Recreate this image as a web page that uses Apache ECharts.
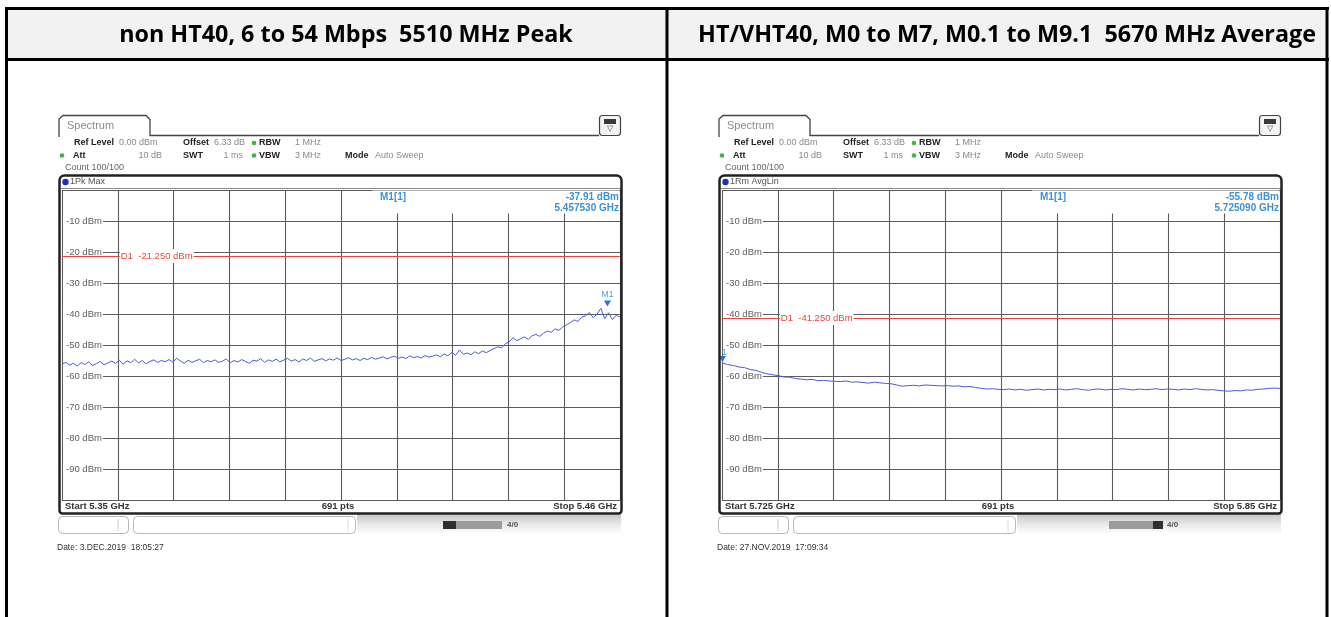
<!DOCTYPE html>
<html><head><meta charset="utf-8">
<script src="https://cdn.jsdelivr.net/npm/echarts@6.0.0/dist/echarts.min.js"></script>
<style>html,body{margin:0;padding:0;background:#fff}#c{width:1331px;height:617px}</style>
</head><body><div id="c"></div>
<script>
// ---------------- data ----------------
const headerTitles = ["non HT40, 6 to 54 Mbps  5510 MHz Peak", "HT/VHT40, M0 to M7, M0.1 to M9.1  5670 MHz Average"];
const yTickValues = [0, -10, -20, -30, -40, -50, -60, -70, -80, -90, -100];
const leftStartMHz = 5350, leftStopMHz = 5460;
const rightStartMHz = 5725, rightStopMHz = 5850;
const leftTrace = [
 -56.2,-55.6,-56.5,-55.9,-56.8,-55.7,-56.3,-55.4,-56.6,-56.0,-55.3,-56.4,-55.8,-55.2,
 -55.9,-54.9,-56.2,-55.1,-55.7,-54.6,-55.8,-55.0,-56.1,-55.3,-54.8,-55.6,-55.0,-55.4,
 -54.7,-55.5,-54.3,-55.2,-55.9,-54.9,-55.6,-55.1,-54.6,-55.7,-55.0,-55.4,-54.8,-55.6,
 -55.2,-54.5,-55.8,-55.0,-55.5,-54.7,-55.3,-55.9,-54.9,-55.2,-54.4,-55.6,-54.8,-55.3,
 -54.6,-55.4,-54.9,-54.3,-55.2,-54.7,-55.5,-54.5,-55.0,-54.2,-55.3,-54.8,-54.4,-55.1,
 -54.5,-54.9,-54.2,-55.0,-54.6,-54.1,-54.8,-54.4,-55.0,-54.3,-54.7,-54.0,-54.6,-54.2,
 -53.8,-54.5,-54.0,-53.6,-54.3,-53.9,-54.4,-53.5,-54.1,-53.7,-54.2,-53.4,-53.9,-53.6,
 -53.2,-53.8,-52.9,-53.5,-52.4,-53.3,-51.6,-53.0,-52.6,-53.1,-52.2,-52.8,-51.9,-52.5,
 -51.8,-51.2,-50.6,-50.9,-49.6,-49.0,-47.6,
 -48.6,-48.0,-47.4,-48.2,-47.0,-46.6,-47.2,
 -46.2,-45.5,-45.9,-44.8,-45.3,-44.2,-43.5,
 -42.8,-41.9,-42.4,-41.0,-40.6,-39.5,-41.2,-40.0,-38.2,-41.5,-39.6,-41.8,-40.4,-41.0
];
const rightTrace = [
 -55.8,-56.3,-56.6,-57.1,-57.3,-57.9,-58.2,-58.8,-59.3,-59.6,
 -59.9,-60.3,-60.4,-60.8,-61.0,-61.2,-61.1,-61.5,-61.4,-61.6,
 -61.7,-61.8,-61.6,-62.0,-61.9,-62.1,-62.3,-62.0,-62.2,-62.4,
 -62.5,-62.9,-63.3,-63.1,-63.0,-63.2,-62.9,-63.0,-63.1,-63.2,
 -63.1,-63.3,-63.2,-63.5,-63.4,-63.7,-64.0,-64.2,-64.1,-64.3,
 -64.4,-64.2,-64.5,-64.3,-64.6,-64.4,-64.2,-64.5,-64.3,-64.4,
 -64.2,-64.5,-64.3,-64.1,-64.4,-64.6,-64.3,-64.2,-64.5,-64.3,
 -64.4,-64.1,-64.3,-64.5,-64.2,-64.4,-64.3,-64.1,-64.4,-64.2,
 -64.3,-64.5,-64.2,-64.4,-64.1,-64.3,-64.5,-64.4,-64.6,-64.8,
 -64.9,-64.7,-64.8,-64.5,-64.6,-64.3,-64.2,-64.0,-63.9,-64.0
];
const leftLimit = -21.25, rightLimit = -41.25;
const leftMarker = [5457.53, -37.91], rightMarker = [5725.09, -55.78];
const traceModes = ["1Pk Max", "1Rm AvgLin"];
const markerLevels = ["-37.91 dBm", "-55.78 dBm"];
const markerFreqs = ["5.457530 GHz", "5.725090 GHz"];
const startLabels = ["Start 5.35 GHz", "Start 5.725 GHz"];
const stopLabels = ["Stop 5.46 GHz", "Stop 5.85 GHz"];
const ptsLabel = "691 pts";
const dates = ["Date: 3.DEC.2019  18:05:27", "Date: 27.NOV.2019  17:09:34"];

// ---------------- helpers ----------------
const FF = '"Liberation Sans", Arial, sans-serif';
function txt(x, y, s, o) {
  o = o || {};
  return {type: 'text', x: x, y: y, z: o.z || 20, style: {text: s, fill: o.color || '#333',
    font: (o.weight || 'normal') + ' ' + (o.size || 9) + 'px ' + (o.family || FF),
    align: o.align || 'left', verticalAlign: 'middle',
    backgroundColor: o.bg, padding: o.pad}};
}
function rect(x, y, w, h, o) {
  return {type: 'rect', z: o.z || 15, shape: {x: x, y: y, width: w, height: h, r: o.r || 0},
    style: {fill: o.fill || null, stroke: o.stroke || null, lineWidth: o.lw || 1}};
}
function ln(x1, y1, x2, y2, c, w, z) {
  return {type: 'line', z: z || 30, shape: {x1: x1, y1: y1, x2: x2, y2: y2}, style: {stroke: c, lineWidth: w}};
}
function sweep(vals, s, e) {
  const span = e - s;
  return vals.map((v, i) => [i * span / (vals.length - 1), v]);
}

const chart = echarts.init(document.getElementById('c'), null, {renderer: 'canvas'});

const panels = [
  {ox: 0, start: leftStartMHz, stop: leftStopMHz, trace: leftTrace, limit: leftLimit, marker: leftMarker, darkFirst: true},
  {ox: 660, start: rightStartMHz, stop: rightStopMHz, trace: rightTrace, limit: rightLimit, marker: rightMarker, darkFirst: false}
];

const gridColor = '#5c5c5c';
const grids = [], xAxes = [], yAxes = [], series = [];
panels.forEach((p, i) => {
  const span = p.stop - p.start;
  grids.push({left: 62 + p.ox, top: 190, width: 558, height: 310});
  xAxes.push({gridIndex: i, type: 'value', min: 0, max: span, interval: span / 10,
    axisLine: {show: false}, axisTick: {show: false}, axisLabel: {show: false},
    splitLine: {show: true, lineStyle: {color: gridColor, width: 1.1}}});
  yAxes.push({gridIndex: i, type: 'value', min: yTickValues[yTickValues.length - 1], max: yTickValues[0], interval: 10,
    axisLine: {show: false}, axisTick: {show: false},
    axisLabel: {inside: true, margin: 1, color: '#5e5e5e', fontSize: 9.5, fontFamily: 'Liberation Sans',
      backgroundColor: '#fff', padding: [1, 1, 1, 3], showMinLabel: false, showMaxLabel: false,
      formatter: v => v + ' dBm'},
    splitLine: {show: true, lineStyle: {color: gridColor, width: 1.1}}});
  series.push({type: 'line', xAxisIndex: i, yAxisIndex: i, data: sweep(p.trace, p.start, p.stop),
    showSymbol: false, lineStyle: {color: '#4b5bd8', width: 1}, itemStyle: {color: '#4b5bd8'},
    animation: false, z: 3, silent: true,
    markLine: {silent: true, symbol: 'none', animation: false, label: {show: false},
      lineStyle: {color: '#e8463c', width: 1, type: 'solid'}, data: [{yAxis: p.limit}]},
    markPoint: {silent: true, animation: false, symbol: 'triangle', symbolSize: [7, 6], symbolRotate: 180,
      symbolOffset: [0, -4], itemStyle: {color: '#2d6fd2'},
      label: {show: true, position: 'top', distance: 1, color: '#4aa0dc', fontSize: 8.5, fontFamily: 'Liberation Sans',
        formatter: i === 0 ? 'M1' : '1', offset: i === 0 ? [0, 0] : [2, 2]},
      data: [{coord: [p.marker[0] - p.start, p.marker[1]]}]}});
});

chart.setOption({animation: false, backgroundColor: '#fff', grid: grids, xAxis: xAxes, yAxis: yAxes, series: series});

// ---------------- decorations ----------------
const g = [];
// table
g.push(rect(8, 10, 1318, 48, {fill: '#f2f2f2', z: 1}));
g.push(ln(5, 8.5, 1329, 8.5, '#000', 3, 40));
g.push(ln(5, 59.5, 1329, 59.5, '#000', 3, 40));
g.push(ln(6.5, 7, 6.5, 617, '#000', 3, 40));
g.push(ln(667, 7, 667, 617, '#000', 3, 40));
g.push(ln(1327, 7, 1327, 617, '#000', 3, 40));
const mc = document.createElement('canvas').getContext('2d');
mc.font = 'bold 20px "Open Sans"';
const hfs = 20 * 618 / mc.measureText(headerTitles[1]).width;
g.push(txt(346, 35, headerTitles[0], {size: hfs, weight: 'bold', family: '"Open Sans"', color: '#000', align: 'center'}));
g.push(txt(1007, 35, headerTitles[1], {size: hfs, weight: 'bold', family: '"Open Sans"', color: '#000', align: 'center'}));

panels.forEach((p, i) => {
  const o = p.ox;
  // tab
  g.push({type: 'polyline', z: 15, shape: {points: [[o + 59, 137], [o + 59, 119], [o + 63, 115.5], [o + 146, 115.5], [o + 150, 119.5], [o + 150, 135.5], [o + 599, 135.5]]},
    style: {stroke: '#444', lineWidth: 1.3, fill: null}});
  g.push(txt(o + 67, 125.5, 'Spectrum', {size: 11, color: '#8c8c8c'}));
  // icon
  g.push(rect(o + 599.5, 115.5, 21, 20, {r: 3, stroke: '#444', lw: 1.2, fill: '#f3f3f3'}));
  g.push(rect(o + 604, 119, 12, 5, {fill: '#3a3a3a', z: 16}));
  g.push(txt(o + 610, 129, '\u25BD', {size: 8, color: '#555', align: 'center'}));
  // info rows
  const grey = '#8a8a8a', dark = '#222';
  g.push(txt(o + 74, 143, 'Ref Level', {weight: 'bold', color: dark}));
  g.push(txt(o + 119, 143, '0.00 dBm', {color: grey}));
  g.push(txt(o + 183, 143, 'Offset', {weight: 'bold', color: dark}));
  g.push(txt(o + 214, 143, '6.33 dB', {color: grey}));
  g.push({type: 'circle', z: 20, shape: {cx: o + 254, cy: 143, r: 2.3}, style: {fill: '#45b049'}});
  g.push(txt(o + 259, 143, 'RBW', {weight: 'bold', color: dark}));
  g.push(txt(o + 295, 143, '1 MHz', {color: grey}));
  g.push({type: 'circle', z: 20, shape: {cx: o + 62, cy: 155.5, r: 2.3}, style: {fill: '#45b049'}});
  g.push(txt(o + 73, 155.5, 'Att', {weight: 'bold', color: dark}));
  g.push(txt(o + 162, 155.5, '10 dB', {color: grey, align: 'right'}));
  g.push(txt(o + 183, 155.5, 'SWT', {weight: 'bold', color: dark}));
  g.push(txt(o + 243, 155.5, '1 ms', {color: grey, align: 'right'}));
  g.push({type: 'circle', z: 20, shape: {cx: o + 254, cy: 155.5, r: 2.3}, style: {fill: '#45b049'}});
  g.push(txt(o + 259, 155.5, 'VBW', {weight: 'bold', color: dark}));
  g.push(txt(o + 295, 155.5, '3 MHz', {color: grey}));
  g.push(txt(o + 345, 155.5, 'Mode', {weight: 'bold', color: dark}));
  g.push(txt(o + 375, 155.5, 'Auto Sweep', {color: grey}));
  g.push(txt(o + 65, 168, 'Count 100/100', {color: '#666'}));
  // frame
  g.push(rect(o + 59.5, 175.5, 562, 338, {r: [5, 5, 3, 3], stroke: '#222', lw: 2.5, z: 35}));
  g.push(ln(o + 61, 188.5, o + 621, 188.5, '#888', 1, 12));
  g.push({type: 'circle', z: 20, shape: {cx: o + 65.5, cy: 182, r: 3.2}, style: {fill: '#1d2fc4'}});
  g.push(txt(o + 70, 182, traceModes[i], {size: 9, color: '#555'}));
  // marker info box
  g.push(rect(o + 372, 190.6, 247, 23, {fill: '#fff', z: 1}));
  g.push(txt(o + 380, 197, 'M1[1]', {size: 10, weight: 'bold', color: '#3b92d8'}));
  g.push(txt(o + 619, 197, markerLevels[i], {size: 10, weight: 'bold', color: '#3b92d8', align: 'right'}));
  g.push(txt(o + 619, 208.5, markerFreqs[i], {size: 10, weight: 'bold', color: '#3b92d8', align: 'right'}));
  // bottom strip
  g.push(rect(o + 61, 501, 559, 11, {fill: '#fff', z: 10}));
  g.push(txt(o + 65, 506.5, startLabels[i], {size: 9.5, weight: 'bold', color: '#333'}));
  g.push(txt(o + 338, 506.5, ptsLabel, {size: 9.5, weight: 'bold', color: '#333', align: 'center'}));
  g.push(txt(o + 617, 506.5, stopLabels[i], {size: 9.5, weight: 'bold', color: '#333', align: 'right'}));
  // status bar
  g.push(rect(o + 357, 514, 264, 20, {fill: new echarts.graphic.LinearGradient(0, 0, 0, 1, [{offset: 0, color: '#c4c4c4'}, {offset: 0.5, color: '#e8e8e8'}, {offset: 1, color: '#ffffff'}]), z: 5}));
  g.push(rect(o + 58.5, 516.5, 70, 17, {r: 4, stroke: '#b8b8b8', fill: '#fff'}));
  g.push(ln(o + 118, 519, o + 118, 531, '#ccc', 1, 16));
  g.push(rect(o + 133.5, 516.5, 222, 17, {r: 4, stroke: '#b8b8b8', fill: '#fff'}));
  g.push(ln(o + 348, 519, o + 348, 531, '#ddd', 1, 16));
  if (p.darkFirst) {
    g.push(rect(o + 443, 521, 13, 8, {fill: '#2f2f2f'}));
    g.push(rect(o + 456, 521, 46, 8, {fill: '#9c9c9c'}));
  } else {
    g.push(rect(o + 449, 521, 44, 8, {fill: '#9c9c9c'}));
    g.push(rect(o + 493, 521, 10, 8, {fill: '#2f2f2f'}));
  }
  g.push(txt(o + 507, 525, '4/0', {size: 8, weight: 'bold', color: '#555'}));
  g.push(txt(o + 57, 548, dates[i], {size: 8.5, color: '#333'}));
  // limit line label through the scale
  const pos = chart.convertToPixel({xAxisIndex: i, yAxisIndex: i}, [(p.stop - p.start) / 10, p.limit]);
  g.push(txt(pos[0] + 2, pos[1], 'D1  ' + p.limit.toFixed(3) + ' dBm', {size: 9.5, color: '#e8463c', bg: '#fff', pad: [2, 1, 2, 1], z: 25}));
});

chart.setOption({graphic: {elements: g}});
</script>
</body></html>
